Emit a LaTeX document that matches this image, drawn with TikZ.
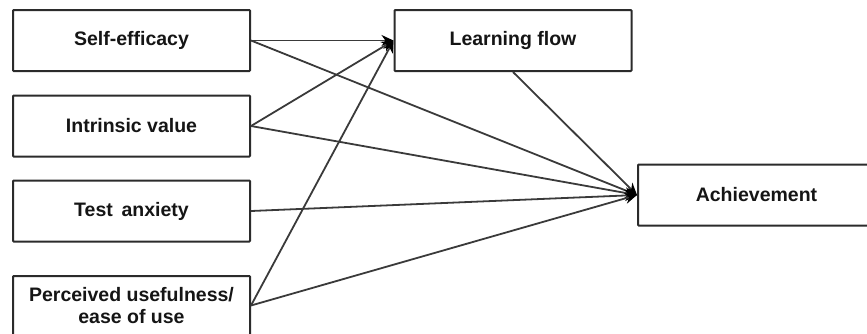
\documentclass[tikz,border=0pt]{standalone}
\usepackage{fontspec}
\setmainfont{Liberation Sans}
\usetikzlibrary{arrows.meta}
\definecolor{boxline}{HTML}{2B2B2B}
\definecolor{linkline}{HTML}{3A3A3A}
\definecolor{labeltext}{HTML}{151515}
\begin{document}
\begin{tikzpicture}[x=1pt,y=-1pt,
  factor/.style={draw=boxline, line width=2pt, fill=white,
    minimum width=237pt, minimum height=61pt, inner sep=0pt,
    rounded corners=0.8pt, align=center, text=labeltext,
    font=\fontsize{19.5}{21.5}\selectfont\bfseries},
  link/.style={draw=linkline, line width=1.8pt,
    -{Stealth[length=12pt,width=11pt,color=black]}}]
  \useasboundingbox (0,0) rectangle (867,333);
  \clip (0,0) rectangle (867,333);

  % predictors
  \node[factor] (se) at (131.5,40.5) {Self-efficacy};
  \node[factor] (iv) at (131.5,126)  {Intrinsic value};
  \node[factor] (ta) at (131.5,211)  {Test\hspace{0.45em}anxiety};
  \node[factor, minimum height=59pt] (pu) at (131.5,305.5)
    {Perceived usefulness/\\ease of use};

  % mediator and outcome
  \node[factor] (lf) at (513,40.5) {Learning flow};
  \node[factor] (ac) at (756.5,195) {Achievement};

  % paths to learning flow
  \draw[link] (se.east) -- (lf.west);
  \draw[link] (iv.east) -- (lf.west);
  \draw[link] (pu.east) -- (lf.west);

  % paths to achievement
  \draw[link] (se.east) -- (ac.west);
  \draw[link] (iv.east) -- (ac.west);
  \draw[link] (ta.east) -- (ac.west);
  \draw[link] (pu.east) -- (ac.west);
  \draw[link] (lf.south) -- (ac.west);
\end{tikzpicture}
\end{document}
